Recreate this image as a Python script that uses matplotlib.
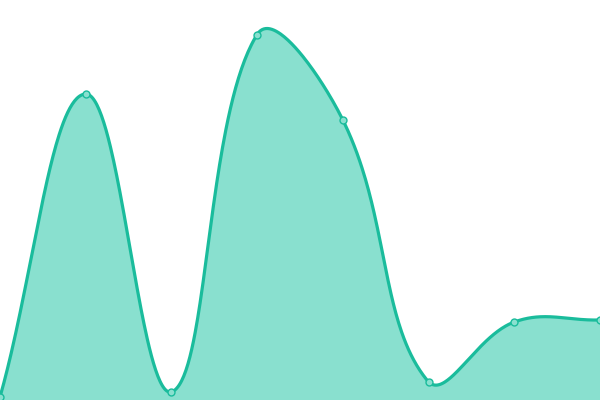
import numpy as np
import matplotlib
matplotlib.use("Agg")
import matplotlib.pyplot as plt

# data (y in chart units 0..400)
x_vals = [0, 1, 2, 3, 4, 5, 6, 7]
y_vals = [3, 306, 8, 365.5, 280, 18, 78, 80]

line_color = "#1abc9c"
fill_color = "#89e0cf"

W, H = 600, 400
TENSION = 0.4


def spline_points(xs, ys, n=80):
    # bezier control points like chart.js splineCurve, worked out in pixel space
    px = np.array(xs, dtype=float) * W / (len(xs) - 1)
    py = np.array(ys, dtype=float)
    m = len(px)
    cp_prev = np.zeros((m, 2))
    cp_next = np.zeros((m, 2))
    for i in range(m):
        prev = np.array([px[max(i - 1, 0)], py[max(i - 1, 0)]])
        cur = np.array([px[i], py[i]])
        nxt = np.array([px[min(i + 1, m - 1)], py[min(i + 1, m - 1)]])
        d01 = np.hypot(*(cur - prev))
        d12 = np.hypot(*(nxt - cur))
        tot = d01 + d12
        s01 = d01 / tot if tot else 0
        s12 = d12 / tot if tot else 0
        cp_prev[i] = cur - TENSION * s01 * (nxt - prev)
        cp_next[i] = cur + TENSION * s12 * (nxt - prev)
    cp_prev[:, 0] = np.clip(cp_prev[:, 0], 0, W)
    cp_next[:, 0] = np.clip(cp_next[:, 0], 0, W)
    cp_prev[:, 1] = np.clip(cp_prev[:, 1], 0, H)
    cp_next[:, 1] = np.clip(cp_next[:, 1], 0, H)
    t = np.linspace(0, 1, n)[:, None]
    segs = []
    for i in range(m - 1):
        p0 = np.array([px[i], py[i]])
        p3 = np.array([px[i + 1], py[i + 1]])
        c1, c2 = cp_next[i], cp_prev[i + 1]
        b = (1 - t) ** 3 * p0 + 3 * (1 - t) ** 2 * t * c1 + 3 * (1 - t) * t ** 2 * c2 + t ** 3 * p3
        segs.append(b)
    curve = np.vstack(segs)
    return px, py, curve[:, 0], curve[:, 1]


px, py, sx, sy = spline_points(x_vals, y_vals)

fig = plt.figure(figsize=(6, 4), dpi=100)
ax = fig.add_axes([0, 0, 1, 1])
ax.fill_between(sx, sy, 0, color=fill_color, linewidth=0)
ax.plot(sx, sy, color=line_color, linewidth=2.3, solid_capstyle="round")
ax.plot(px, py, "o", markersize=5, markerfacecolor=fill_color,
        markeredgecolor=line_color, markeredgewidth=1, clip_on=False)
ax.set_xlim(0, W)
ax.set_ylim(0, H)
ax.axis("off")
fig.savefig("out.png", dpi=100)
